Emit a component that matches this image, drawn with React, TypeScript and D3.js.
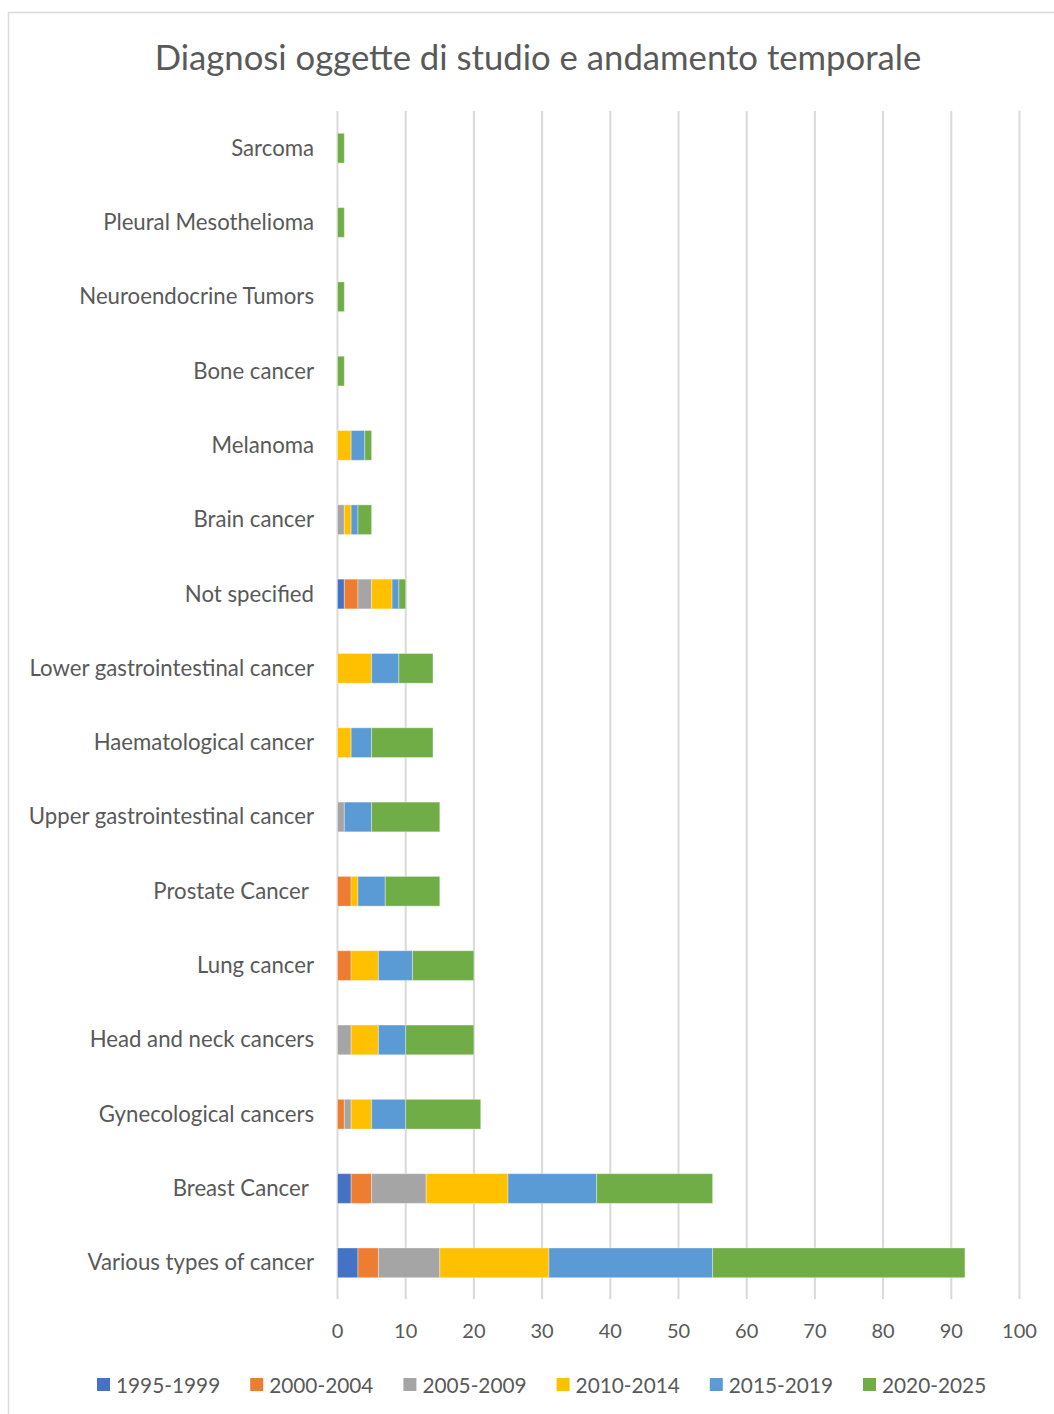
import React from "react";
import * as d3 from "d3";

const categories = [
  "Sarcoma",
  "Pleural Mesothelioma",
  "Neuroendocrine Tumors",
  "Bone cancer",
  "Melanoma",
  "Brain cancer",
  "Not specified",
  "Lower gastrointestinal cancer",
  "Haematological cancer",
  "Upper gastrointestinal cancer",
  "Prostate Cancer ",
  "Lung cancer",
  "Head and neck cancers",
  "Gynecological cancers",
  "Breast Cancer ",
  "Various types of cancer",
];

const seriesNames = ["1995-1999", "2000-2004", "2005-2009", "2010-2014", "2015-2019", "2020-2025"];
const seriesColors = ["#4472C4", "#ED7D31", "#A5A5A5", "#FFC000", "#5B9BD5", "#70AD47"];

const s1995 = [0, 0, 0, 0, 0, 0, 1, 0, 0, 0, 0, 0, 0, 0, 2, 3];
const s2000 = [0, 0, 0, 0, 0, 0, 2, 0, 0, 0, 2, 2, 0, 1, 3, 3];
const s2005 = [0, 0, 0, 0, 0, 1, 2, 0, 0, 1, 0, 0, 2, 1, 8, 9];
const s2010 = [0, 0, 0, 0, 2, 1, 3, 5, 2, 0, 1, 4, 4, 3, 12, 16];
const s2015 = [0, 0, 0, 0, 2, 1, 1, 4, 3, 4, 4, 5, 4, 5, 13, 24];
const s2020 = [1, 1, 1, 1, 1, 2, 1, 5, 9, 10, 8, 9, 10, 11, 17, 37];

const xTicks = [0, 10, 20, 30, 40, 50, 60, 70, 80, 90, 100];

const W = 1054;
const H = 1414;
const FONT = "Lato, 'Open Sans', sans-serif";
const TEXT = "#595959";

export default function App() {
  const seriesData = [s1995, s2000, s2005, s2010, s2015, s2020];
  const rows = categories.map((c, i) => {
    const r: any = { cat: c };
    seriesNames.forEach((s, j) => (r[s] = seriesData[j][i]));
    return r;
  });
  const stacked = d3.stack().keys(seriesNames)(rows);

  const x = d3.scaleLinear().domain([0, 100]).range([337.5, 1019.5]);
  const y = d3
    .scaleBand()
    .domain(categories)
    .range([111, 1300])
    .paddingInner(0.6)
    .paddingOuter(0.3);

  const legendX = (i: number) => 97 + i * 153.2;

  return (
    <div style={{ position: "absolute", left: 0, top: 0 }}>
      <svg width={W} height={H} style={{ display: "block" }}>
        <rect x={0} y={0} width={W} height={H} fill="#fff" />
        <rect x={8.5} y={12.5} width={W + 10} height={H + 10} fill="#fff" stroke="#d9d9d9" strokeWidth={1.5} />
        <text
          x={538}
          y={56}
          textAnchor="middle"
          dominantBaseline="central"
          fontFamily={FONT}
          fontSize={34.7}
          fill={TEXT}
        >
          Diagnosi oggette di studio e andamento temporale
        </text>
        {xTicks.map((t) => (
          <g key={t}>
            <line x1={x(t)} x2={x(t)} y1={111} y2={1299} stroke="#d9d9d9" strokeWidth={2} />
            <text
              x={x(t)}
              y={1330}
              textAnchor="middle"
              dominantBaseline="central"
              fontFamily={FONT}
              fontSize={20}
              fill={TEXT}
            >
              {t}
            </text>
          </g>
        ))}
        {stacked.map((layer, j) => (
          <g key={layer.key} fill={seriesColors[j]}>
            {layer.map((d: any, i: number) =>
              d[1] - d[0] > 0 ? (
                <rect
                  key={i}
                  x={x(d[0])}
                  width={x(d[1]) - x(d[0])}
                  y={y(categories[i])}
                  height={y.bandwidth()}
                  stroke="#fff"
                  strokeOpacity={0.35}
                  strokeWidth={1}
                />
              ) : null
            )}
          </g>
        ))}
        {categories.map((c) => (
          <text
            key={c}
            x={314}
            y={(y(c) as number) + y.bandwidth() / 2 - 1}
            textAnchor="end"
            dominantBaseline="central"
            fontFamily={FONT}
            fontSize={22.2}
            fill={TEXT}
            style={{ whiteSpace: "pre" }}
          >
            {c}
          </text>
        ))}
        {seriesNames.map((s, i) => (
          <g key={s}>
            <rect x={legendX(i)} y={1378} width={13} height={13} fill={seriesColors[i]} />
            <text
              x={legendX(i) + 19}
              y={1384}
              dominantBaseline="central"
              fontFamily={FONT}
              fontSize={20.8}
              fill={TEXT}
            >
              {s}
            </text>
          </g>
        ))}
      </svg>
    </div>
  );
}
